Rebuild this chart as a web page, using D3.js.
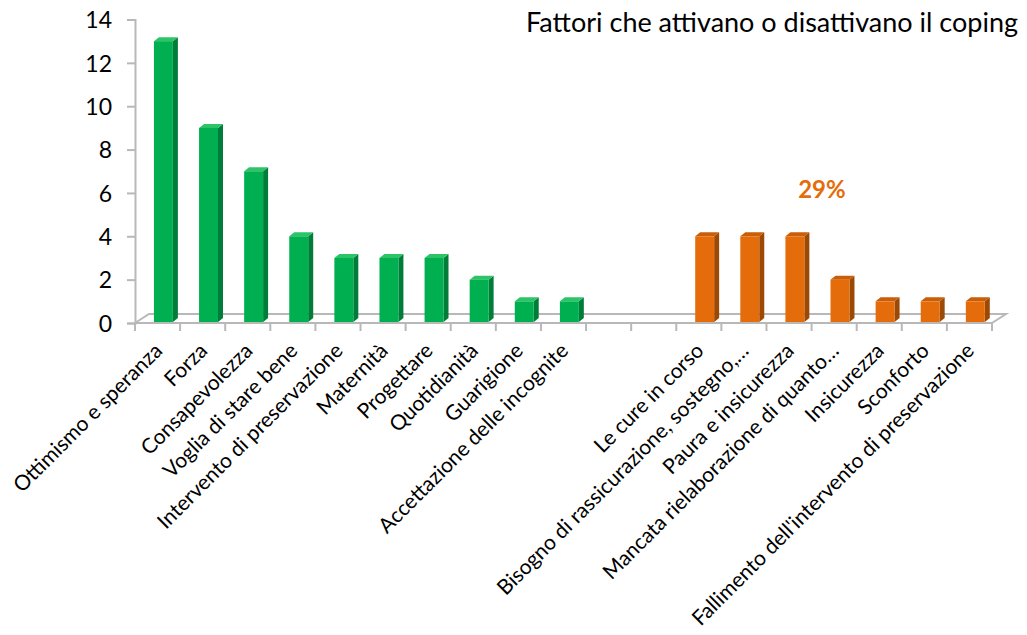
<!DOCTYPE html>
<html>
<head>
<meta charset="utf-8">
<script src="https://cdn.jsdelivr.net/npm/d3@7"></script>
<style>
  body { margin: 0; background: #fff; }
  svg text { font-family: Lato, "Open Sans", sans-serif; }
</style>
</head>
<body>
<svg id="chart" width="1027" height="635"></svg>
<script>
// green = activating factors, orange = deactivating factors
var greenLabels = ["Ottimismo e speranza", "Forza", "Consapevolezza", "Voglia di stare bene",
    "Intervento di preservazione", "Maternità", "Progettare", "Quotidianità", "Guarigione",
    "Accettazione delle incognite"];
var greenValues = [13, 9, 7, 4, 3, 3, 3, 2, 1, 1];
var gapLabels = ["", ""];
var orangeLabels = ["Le cure in corso", "Bisogno di rassicurazione, sostegno,…", "Paura e insicurezza",
    "Mancata rielaborazione di quanto…", "Insicurezza", "Sconforto",
    "Fallimento dell'intervento di preservazione"];
var orangeValues = [4, 4, 4, 2, 1, 1, 1];
var yTicks = [0, 2, 4, 6, 8, 10, 12, 14];
var titleText = "Fattori che attivano o disattivano il coping";
var noteText = "29%";

var rows = [];
greenLabels.forEach(function(l, i) { rows.push({label: l, value: greenValues[i], group: "g"}); });
gapLabels.forEach(function(l) { rows.push({label: l, value: null, group: "none"}); });
orangeLabels.forEach(function(l, i) { rows.push({label: l, value: orangeValues[i], group: "o"}); });
rows.forEach(function(d, i) { d.key = i; });

var colors = {
    g: {face: "#00b050", side: "#007d39", top: "#2cc467"},
    o: {face: "#e46c0a", side: "#9c4906", top: "#c95d08"}
};

var svg = d3.select("#chart");

var xScale = d3.scaleBand()
    .domain(rows.map(function(d) { return d.key; }))
    .range([135, 992]);
var yScale = d3.scaleLinear()
    .domain([0, 14])
    .range([323, 19.5]);

var bw = xScale.bandwidth();
var depthX = 14, depthY = -9;   // floor depth
var barDx = 5, barDy = -4;      // bar depth

// floor
var floorColor = "#b8b8b8";
var x0 = xScale.range()[0], x1 = xScale.range()[1], y0 = yScale(0);
svg.append("path")
    .attr("d", "M" + x0 + "," + y0 + "L" + (x0 + depthX) + "," + (y0 + depthY) +
        "L" + (x1 + depthX) + "," + (y0 + depthY) + "L" + x1 + "," + y0)
    .attr("fill", "none")
    .attr("stroke", floorColor)
    .attr("stroke-width", 2);

// y axis
var yAxis = svg.append("g")
    .attr("transform", "translate(" + x0 + ",0)")
    .call(d3.axisLeft(yScale).tickValues(yTicks).tickSize(8).tickPadding(15));
yAxis.select(".domain").attr("stroke", floorColor).attr("stroke-width", 2);
yAxis.selectAll(".tick line").attr("stroke", floorColor).attr("stroke-width", 2);
yAxis.selectAll(".tick text")
    .style("font-size", "23px")
    .style("fill", "#000")
    .attr("dy", "0.36em");

// x axis line + ticks at band boundaries
svg.append("line")
    .attr("x1", x0).attr("x2", x1)
    .attr("y1", y0).attr("y2", y0)
    .attr("stroke", floorColor).attr("stroke-width", 2);
var bounds = rows.map(function(d) { return xScale(d.key); }).concat([x1]);
svg.selectAll(".xtick")
    .data(bounds)
    .enter()
    .append("line")
    .attr("class", "xtick")
    .attr("x1", function(d) { return d; })
    .attr("x2", function(d) { return d; })
    .attr("y1", y0)
    .attr("y2", y0 + 8)
    .attr("stroke", floorColor)
    .attr("stroke-width", 2);

// bars
var bars = svg.selectAll(".bar")
    .data(rows.filter(function(d) { return d.value !== null; }))
    .enter()
    .append("g")
    .attr("class", "bar");

function faceX(d) { return xScale(d.key) + bw * 0.42; }
var fw = bw * 0.42;

bars.append("path")
    .attr("d", function(d) {
        var l = faceX(d) + fw, t = yScale(d.value), b = yScale(0) - 1;
        return "M" + l + "," + b + "L" + (l + barDx) + "," + (b + barDy) +
            "L" + (l + barDx) + "," + (t + barDy) + "L" + l + "," + t + "Z";
    })
    .attr("fill", function(d) { return colors[d.group].side; });

bars.append("path")
    .attr("d", function(d) {
        var l = faceX(d), t = yScale(d.value);
        return "M" + l + "," + t + "L" + (l + barDx) + "," + (t + barDy) +
            "L" + (l + fw + barDx) + "," + (t + barDy) + "L" + (l + fw) + "," + t + "Z";
    })
    .attr("fill", function(d) { return colors[d.group].top; });

bars.append("rect")
    .attr("x", faceX)
    .attr("y", function(d) { return yScale(d.value); })
    .attr("width", fw)
    .attr("height", function(d) { return yScale(0) - 1 - yScale(d.value); })
    .attr("fill", function(d) { return colors[d.group].face; });

// category labels
svg.selectAll(".xlabel")
    .data(rows.filter(function(d) { return d.label !== ""; }))
    .enter()
    .append("text")
    .attr("class", "xlabel")
    .attr("text-anchor", "end")
    .attr("transform", function(d) {
        return "translate(" + (xScale(d.key) + bw / 2 + 6) + "," + 352 + ") rotate(-45)";
    })
    .style("font-size", "21px")
    .style("fill", "#000")
    .text(function(d) { return d.label; });

// title
svg.append("text")
    .attr("x", 1018)
    .attr("y", 32)
    .attr("text-anchor", "end")
    .style("font-size", "27px")
    .style("fill", "#000")
    .text(titleText);

svg.append("text")
    .attr("x", xScale(15) + bw * 0.23)
    .attr("y", 198)
    .attr("text-anchor", "middle")
    .style("font-size", "24px")
    .style("font-weight", "bold")
    .style("fill", "#e46c0a")
    .text(noteText);
</script>
</body>
</html>
